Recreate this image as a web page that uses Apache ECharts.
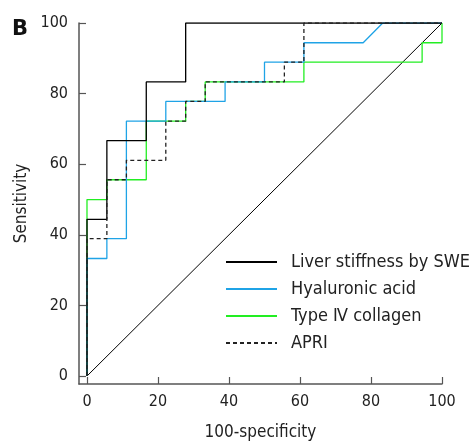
<!DOCTYPE html>
<html><head><meta charset="utf-8">
<script src="https://cdn.jsdelivr.net/npm/echarts@6/dist/echarts.min.js"></script>
<style>html,body{margin:0;padding:0;background:#fff}#c{width:473px;height:446px}</style>
</head><body><div id="c"></div>
<script>
const FONT = '"DejaVu Sans Condensed","DejaVu Sans",sans-serif';
const tickValues = [0, 20, 40, 60, 80, 100];
const seriesNames = ['Liver stiffness by SWE', 'Hyaluronic acid', 'Type \u2163 collagen', 'APRI'];

const sweX = [0, 0, 5.6, 5.6, 16.7, 16.7, 27.8, 27.8, 100];
const sweY = [0, 44.4, 44.4, 66.7, 66.7, 83.3, 83.3, 100, 100];

const haX = [0, 0, 5.6, 5.6, 11.1, 11.1, 22.2, 22.2, 38.9, 38.9, 50, 50, 61.1, 61.1, 77.8, 83.3, 100];
const haY = [0, 33.3, 33.3, 38.9, 38.9, 72.2, 72.2, 77.8, 77.8, 83.3, 83.3, 88.9, 88.9, 94.4, 94.4, 100, 100];

const colX = [0, 0, 5.6, 5.6, 16.7, 16.7, 27.8, 27.8, 33.3, 33.3, 61.1, 61.1, 94.4, 94.4, 100, 100];
const colY = [0, 50, 50, 55.6, 55.6, 72.2, 72.2, 77.8, 77.8, 83.3, 83.3, 88.9, 88.9, 94.4, 94.4, 100];

const apriX = [0, 0, 5.6, 5.6, 11.1, 11.1, 22.2, 22.2, 27.8, 27.8, 33.3, 33.3, 55.6, 55.6, 61.1, 61.1, 100];
const apriY = [0, 38.9, 38.9, 55.6, 55.6, 61.1, 61.1, 72.2, 72.2, 77.8, 77.8, 83.3, 83.3, 88.9, 88.9, 100, 100];

const refX = [0, 100];
const refY = [0, 100];

function pts(xs, ys) { return xs.map((x, i) => [x, ys[i]]); }

const chart = echarts.init(document.getElementById('c'), null, {renderer: 'canvas'});
const axisCommon = {
  type: 'value', min: -2.25, max: 100,
  axisLine: {show: true, onZero: false, lineStyle: {color: '#555', width: 1.5}},
  axisTick: {show: true, inside: true, length: 7, customValues: tickValues, lineStyle: {color: '#555', width: 1.2}},
  axisLabel: {customValues: tickValues, fontFamily: FONT, fontSize: 16, color: '#222'},
  splitLine: {show: false},
  nameLocation: 'middle',
  nameTextStyle: {fontFamily: FONT, fontSize: 17, color: '#222'}
};
chart.setOption({
  animation: false,
  grid: {left: 79, right: 31, top: 23, bottom: 59, containLabel: false},
  title: {text: 'B', left: 7, top: 14, textStyle: {fontFamily: '"DejaVu Sans",sans-serif', fontWeight: 'bold', fontSize: 21, color: '#111'}},
  legend: {
    orient: 'vertical', left: 220, top: 248, itemWidth: 51, itemHeight: 14, itemGap: 9,
    data: seriesNames,
    itemStyle: {opacity: 0},
    textStyle: {fontFamily: FONT, fontSize: 18, color: '#222', padding: [0, 0, 0, 9]}
  },
  xAxis: Object.assign({}, axisCommon, {name: '100-specificity', nameGap: 40, axisLabel: Object.assign({}, axisCommon.axisLabel, {margin: 10})}),
  yAxis: Object.assign({}, axisCommon, {name: 'Sensitivity', nameGap: 48, axisLabel: Object.assign({}, axisCommon.axisLabel, {margin: 11})}),
  series: [
    {type: 'line', name: 'ref', data: pts(refX, refY), symbol: 'none', silent: true, lineStyle: {color: '#000', width: 1}, z: 1},
    {type: 'line', name: seriesNames[2], data: pts(colX, colY), symbol: 'none', color: '#22ee22', lineStyle: {color: '#22ee22', width: 1.3}, z: 2},
    {type: 'line', name: seriesNames[1], data: pts(haX, haY), symbol: 'none', color: '#1fa3e6', lineStyle: {color: '#1fa3e6', width: 1.3}, z: 3},
    {type: 'line', name: seriesNames[0], data: pts(sweX, sweY), symbol: 'none', color: '#000', lineStyle: {color: '#000', width: 1.3}, z: 4},
    {type: 'line', name: seriesNames[3], data: pts(apriX, apriY), symbol: 'none', color: '#222', lineStyle: {color: '#222', width: 1.3, type: [4, 3]}, z: 5}
  ]
});
</script></body></html>
